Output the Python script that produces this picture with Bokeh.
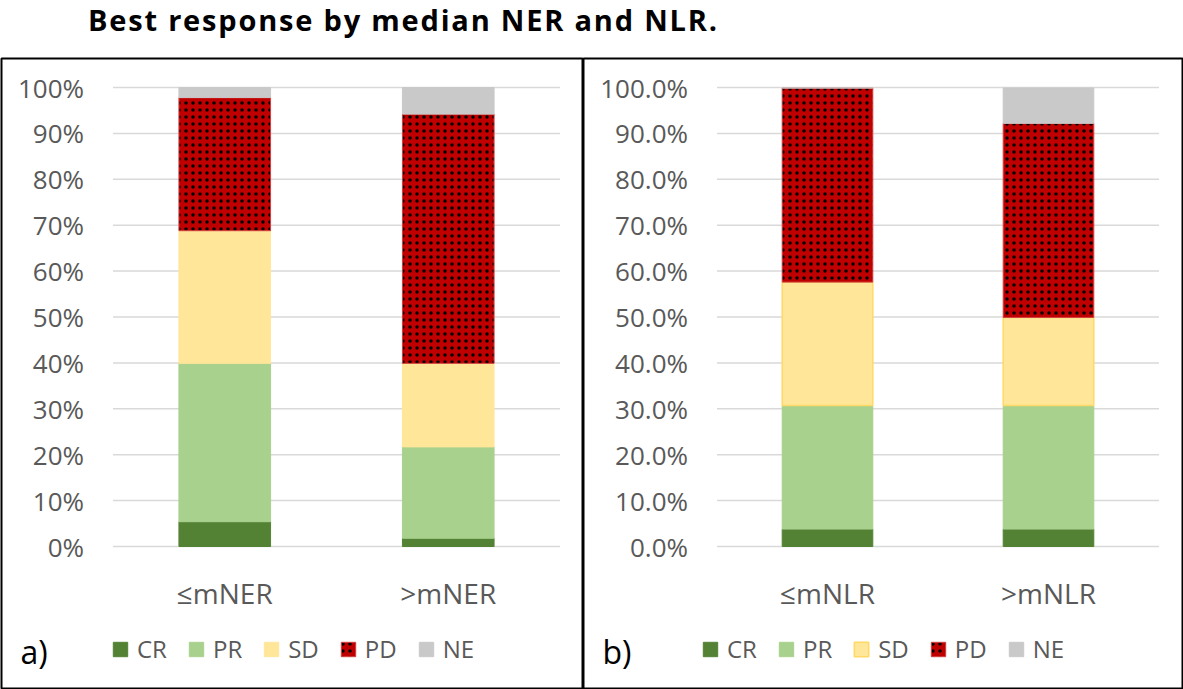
from bokeh.plotting import figure
from bokeh.models import ColumnDataSource, Range1d, Label, Div
from bokeh.layouts import column, row
from bokeh.transform import stack
from bokeh.core.properties import value
from bokeh.embed import file_html
from bokeh.resources import INLINE

# ---------------- data (percent of patients) ----------------
series = ["CR", "PR", "SD", "PD", "NE"]
colors = ["#548235", "#A9D18E", "#FFE699", "#C00000", "#C9C9C9"]

cats_a = ["≤mNER", ">mNER"]
CR_a = [5.4, 1.8]
PR_a = [34.5, 19.9]
SD_a = [28.9, 18.2]
PD_a = [29.0, 54.3]
NE_a = [2.2, 5.8]

cats_b = ["≤mNLR", ">mNLR"]
CR_b = [3.8, 3.8]
PR_b = [26.9, 26.9]
SD_b = [26.9, 19.2]
PD_b = [42.3, 42.3]
NE_b = [0.0, 7.7]

yticks = [0, 10, 20, 30, 40, 50, 60, 70, 80, 90, 100]
ylabels_a = ["0%", "10%", "20%", "30%", "40%", "50%", "60%", "70%", "80%", "90%", "100%"]
ylabels_b = ["0.0%", "10.0%", "20.0%", "30.0%", "40.0%", "50.0%", "60.0%", "70.0%",
             "80.0%", "90.0%", "100.0%"]

FONT = "Open Sans"
GREY_TXT = "#595959"
GRID = "#D9D9D9"
H = 632


def panel(cats, vals, ylabels, W, bl, x0px, x1px, tag, sd_line, leg_x, tag_x):
    # frame covers the whole panel; ranges map 0..2 / 0..100 onto the plot area
    br, bt, bb = 1, 1, 1
    fl, fr = bl, W - br
    ft, fb = bt, H - bb
    sx = (x1px - x0px) / 2.0
    y100, y0 = 30.0, 489.0
    sy = (y0 - y100) / 100.0
    xr = Range1d((fl - x0px) / sx, (fr - x0px) / sx)
    yr = Range1d((y0 - fb) / sy, (y0 - ft) / sy)

    p = figure(x_range=xr, y_range=yr, width=W, height=H,
               output_backend="svg", toolbar_location=None,
               x_axis_location=None, y_axis_location=None,
               min_border_left=bl, min_border_right=br,
               min_border_top=bt, min_border_bottom=bb)
    p.grid.visible = False
    p.outline_line_color = "black"
    p.outline_line_width = 2
    p.background_fill_color = "white"
    p.border_fill_color = "white"

    pos = [i + 0.5 for i in range(len(cats))]

    # gridlines at the tick values
    gsrc = ColumnDataSource(dict(y=yticks, t=ylabels))
    p.segment(x0=0, x1=len(cats), y0="y", y1="y", source=gsrc,
              line_color=GRID, line_width=1.5)
    # tick labels
    p.text(x=0, y="y", text="t", source=gsrc, x_offset=-29,
           text_align="right", text_baseline="middle",
           text_font=value(FONT), text_font_size="26px", text_color=GREY_TXT)

    src = ColumnDataSource(dict(x=pos, **dict(zip(series, vals))))
    for i, s in enumerate(series):
        kw = dict(fill_color=colors[i], line_color=colors[i], line_width=1)
        if s == "PD":
            kw.update(hatch_pattern="dot", hatch_color="black",
                      hatch_scale=7, hatch_weight=1.0, line_color="#D04040")
        if s == "SD" and sd_line:
            kw.update(line_color="#FFD966", line_width=1.5)
        p.vbar(x="x", width=0.41, bottom=stack(*series[:i]),
               top=stack(*series[:i + 1]), source=src, legend_label=s, **kw)

    # category labels
    csrc = ColumnDataSource(dict(x=pos, t=cats))
    p.text(x="x", y=0, text="t", source=csrc, y_offset=46,
           text_align="center", text_baseline="middle",
           text_font=value(FONT), text_font_size="28px", text_color=GREY_TXT)

    lg = p.legend[0]
    lg.orientation = "horizontal"
    lg.location = (leg_x, 23)
    lg.margin = 0
    lg.padding = 0
    lg.spacing = 20
    lg.glyph_width = 18
    lg.glyph_height = 18
    lg.label_standoff = 8
    lg.label_text_font = FONT
    lg.label_text_font_size = "24px"
    lg.label_text_color = GREY_TXT
    lg.label_height = 20
    lg.border_line_color = None
    lg.background_fill_alpha = 0

    p.add_layout(Label(x=tag_x, y=37, x_units="screen", y_units="screen",
                       text=tag, text_font=FONT, text_font_size="32px",
                       text_color="black", text_baseline="middle"))
    return p


pa = panel(cats_a, [CR_a, PR_a, SD_a, PD_a, NE_a], ylabels_a, 583, 1, 112.5, 559.5,
           "a)", False, 110, 19)
pb = panel(cats_b, [CR_b, PR_b, SD_b, PD_b, NE_b], ylabels_b, 600, 0, 133.5, 575.5,
           "b)", True, 118, 19)

title = Div(text="Best response by median NER and NLR.", width=1183, height=57,
            styles={"font-family": "Open Sans", "font-weight": "bold", "font-size": "29px",
                    "letter-spacing": "1.8px", "padding-left": "88px", "color": "black",
                    "line-height": "40px", "margin": "0px"})

layout = column(title, row(pa, pb, spacing=0), spacing=0)
open("out.html", "w").write(file_html(layout, INLINE))
